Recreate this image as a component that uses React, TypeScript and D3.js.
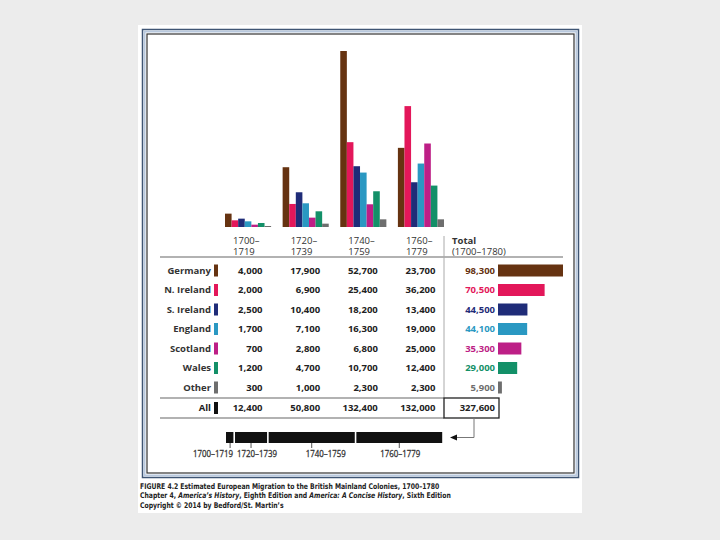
import React from 'react';
import * as d3 from 'd3';

// Data
const periods = ['1700–1719', '1720–1739', '1740–1759', '1760–1779'];
const series = ['Germany', 'N. Ireland', 'S. Ireland', 'England', 'Scotland', 'Wales', 'Other'];
const germany = [4000, 17900, 52700, 23700];
const nIreland = [2000, 6900, 25400, 36200];
const sIreland = [2500, 10400, 18200, 13400];
const england = [1700, 7100, 16300, 19000];
const scotland = [700, 2800, 6800, 25000];
const wales = [1200, 4700, 10700, 12400];
const other = [300, 1000, 2300, 2300];
const seriesTotals = [98300, 70500, 44500, 44100, 35300, 29000, 5900];
const periodTotals = [12400, 50800, 132400, 132000];
const grandTotal = 327600;

const values = [germany, nIreland, sIreland, england, scotland, wales, other];
const colors = ['#663311', '#e3175a', '#1f2c78', '#2a98c2', '#bd1f86', '#139068', '#6e6e6e'];

const fmt = d3.format(',');
const FONT = "'Open Sans', 'DejaVu Sans', sans-serif";
const CAPTION_FONT = "'Liberation Sans Narrow', 'DejaVu Sans Condensed', sans-serif";

export default function App() {
  const groupX = d3.scaleBand<string>().domain(periods).range([225, 444]).paddingInner(0.2).paddingOuter(0);
  const seriesX = d3.scaleBand<string>().domain(series).range([0, groupX.bandwidth()]);
  const y = d3.scaleLinear().domain([0, 52700]).range([227, 51]);
  const rowY = d3.scalePoint<string>().domain(series).range([270.5, 387.5]);
  const totalX = d3.scaleLinear().domain([0, 98300]).range([498, 563]);
  const timeX = d3.scaleLinear().domain([0, grandTotal]).range([226, 443]);

  const colCenter = (p: string) => (groupX(p) ?? 0) + groupX.bandwidth() / 2;
  const allY = 408;

  // cumulative segments for the timeline strip
  let acc = 0;
  const segments = periodTotals.map((v, i) => {
    const s = { period: periods[i], x0: timeX(acc), x1: timeX(acc + v) };
    acc += v;
    return s;
  });
  const labelDx = [-17, 6, 14, 1];

  return (
    <div style={{ position: 'fixed', left: 0, top: 0 }}>
      <svg width={720} height={540} style={{ display: 'block' }}>
        <rect width={720} height={540} fill="#ececec" />
        <rect x={138} y={25} width={444} height={488} fill="#fff" />
        {/* double frame */}
        <rect x={142.5} y={29.5} width={436} height={448} fill="none" stroke="#3f5574" strokeWidth={1.5} />
        <rect x={144.5} y={31.5} width={432} height={444} fill="none" stroke="#b9c9de" strokeWidth={2} />
        <rect x={147} y={34} width={427} height={439} fill="none" stroke="#333" strokeWidth={1.2} />

        {/* grouped bars */}
        {periods.map((p, pi) => (
          <g key={p} transform={`translate(${groupX(p)},0)`}>
            {series.map((s, si) => (
              <rect
                key={s}
                x={seriesX(s)}
                y={y(values[si][pi])}
                width={seriesX.bandwidth()}
                height={y(0) - y(values[si][pi])}
                fill={colors[si]}
              />
            ))}
          </g>
        ))}

        {/* column headings */}
        <g fontFamily={FONT} fontSize={9.5} fill="#333">
          {periods.map((p) => {
            const [a, b] = p.split('–');
            return (
              <g key={p}>
                <text x={colCenter(p) - 15} y={243.5}>{a}–</text>
                <text x={colCenter(p) - 15} y={255}>{b}</text>
              </g>
            );
          })}
          <text fontWeight="bold" x={452} y={243.5}>Total</text>
          <text x={452} y={255}>(1700–1780)</text>
        </g>

        {/* table rules */}
        <line x1={160} x2={563} y1={257} y2={257} stroke="#999" strokeWidth={1.5} />
        <line x1={160} x2={444} y1={398} y2={398} stroke="#999" strokeWidth={1.5} />
        <line x1={160} x2={444} y1={418} y2={418} stroke="#999" strokeWidth={1.5} />
        <line x1={444} x2={444} y1={236} y2={398} stroke="#aaa" strokeWidth={1} />
        <rect x={444} y={398} width={55} height={20} fill="none" stroke="#222" strokeWidth={1.3} />

        {/* table rows */}
        <g fontFamily={FONT} fontSize={9.5} fontWeight="bold">
          {series.map((s, si) => {
            const cy = rowY(s) ?? 0;
            return (
              <g key={s}>
                <text x={211} y={cy} dy="0.35em" textAnchor="end" fill="#333">{s}</text>
                <rect x={214} y={cy - 6} width={4} height={12} fill={colors[si]} />
                {periods.map((p, pi) => (
                  <text key={p} x={colCenter(p) + 14.5} y={cy} dy="0.35em" textAnchor="end" fill="#222">
                    {fmt(values[si][pi])}
                  </text>
                ))}
                <text x={495} y={cy} dy="0.35em" textAnchor="end" fill={colors[si]}>{fmt(seriesTotals[si])}</text>
                <rect x={totalX(0)} y={cy - 6} width={totalX(seriesTotals[si]) - totalX(0)} height={12} fill={colors[si]} />
              </g>
            );
          })}
          <text x={211} y={allY} dy="0.35em" textAnchor="end" fill="#222">All</text>
          <rect x={214} y={allY - 6} width={4} height={12} fill="#111" />
          {periods.map((p, pi) => (
            <text key={p} x={colCenter(p) + 14.5} y={allY} dy="0.35em" textAnchor="end" fill="#222">
              {fmt(periodTotals[pi])}
            </text>
          ))}
          <text x={495} y={allY} dy="0.35em" textAnchor="end" fill="#222">{fmt(grandTotal)}</text>
        </g>

        {/* timeline strip */}
        {segments.map((sg, i) => (
          <g key={sg.period}>
            <rect x={sg.x0 + (i ? 0.8 : 0)} y={432} width={sg.x1 - sg.x0 - (i ? 1.6 : 0.8)} height={11} fill="#111" />
            <line x1={(sg.x0 + sg.x1) / 2} x2={(sg.x0 + sg.x1) / 2} y1={443} y2={448} stroke="#555" strokeWidth={1} />
            <text
              x={(sg.x0 + sg.x1) / 2 + labelDx[i]}
              y={457}
              textAnchor="middle"
              fontFamily={FONT}
              fontSize={9}
              fill="#333"
              textLength={40}
              lengthAdjust="spacingAndGlyphs"
              stroke="#333"
              strokeWidth={0.3}
            >
              {sg.period}
            </text>
          </g>
        ))}
        <path d="M474,418 V437.5 H455" fill="none" stroke="#777" strokeWidth={1} />
        <path d="M450,437.5 L457,434.5 L457,440.5 Z" fill="#111" />

        {/* caption, squeezed horizontally to the narrow face of the original */}
        <g transform="translate(140,0) scale(0.872,1)" fontFamily={CAPTION_FONT} fontSize={7.8} fontWeight="bold" fill="#222">
          <text x={0} y={489}>FIGURE 4.2  Estimated European Migration to the British Mainland Colonies, 1700–1780</text>
          <text x={0} y={498.5}>
            Chapter 4, <tspan fontStyle="italic">America’s History</tspan>, Eighth Edition and{' '}
            <tspan fontStyle="italic">America: A Concise History</tspan>, Sixth Edition
          </text>
          <text x={0} y={508}>Copyright © 2014 by Bedford/St. Martin’s</text>
        </g>
      </svg>
    </div>
  );
}
